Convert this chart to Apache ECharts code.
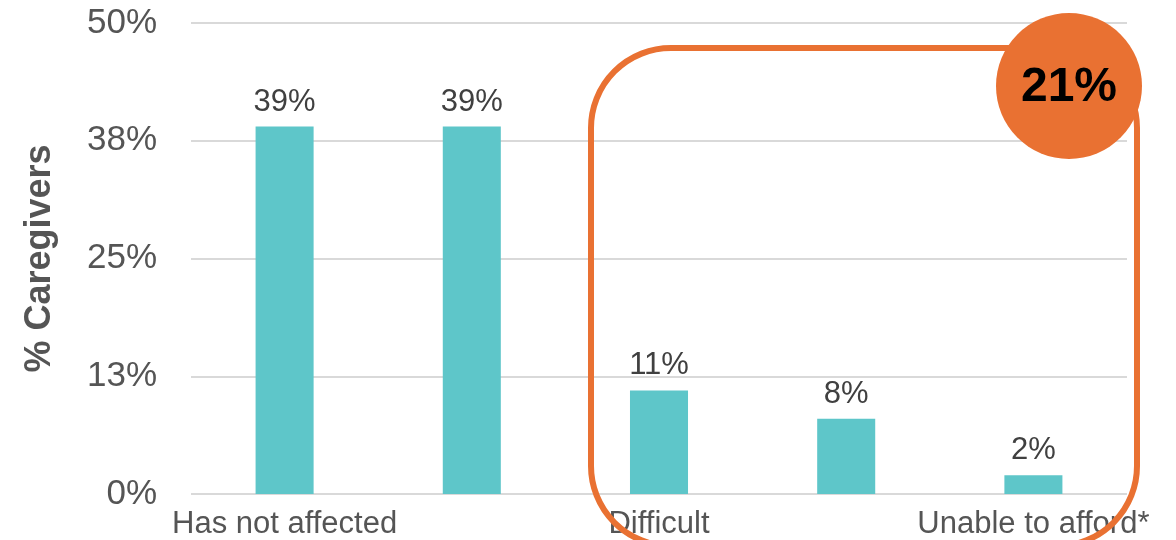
<!DOCTYPE html>
<html>
<head>
<meta charset="utf-8">
<script src="https://cdn.jsdelivr.net/npm/echarts@6/dist/echarts.min.js"></script>
<style>html,body{margin:0;padding:0;background:#fff}#c{width:1176px;height:540px}</style>
</head>
<body>
<div id="c"></div>
<script>
var categories = ['Has not affected', 'Somewhat affected', 'Difficult', 'Very difficult', 'Unable to afford*'];
var values = [39, 39, 11, 8, 2];
var yTicks = [0, 12.5, 25, 37.5, 50];
var highlightTotal = '21%';

var chart = echarts.init(document.getElementById('c'));
var font = '"Liberation Sans", Arial, Helvetica, sans-serif';
chart.setOption({
  animation: false,
  grid: { left: 191, right: 49, top: 23, bottom: 44, containLabel: false },
  xAxis: {
    type: 'category',
    data: categories,
    axisLine: { show: false },
    axisTick: { show: false },
    axisLabel: { interval: 1, color: '#555', fontSize: 31, fontFamily: font, margin: 15, hideOverlap: false }
  },
  yAxis: {
    type: 'value',
    min: yTicks[0], max: yTicks[yTicks.length - 1], interval: 12.5,
    name: '% Caregivers',
    nameLocation: 'middle',
    nameGap: 133,
    nameTextStyle: { color: '#555', fontSize: 36, fontWeight: 'bold', fontFamily: font },
    axisLine: { show: false },
    axisTick: { show: false },
    axisLabel: { color: '#555', fontSize: 35, fontFamily: font, margin: 34,
      formatter: function (v) { return Math.round(v) + '%'; } },
    splitLine: { lineStyle: { color: '#d9d9d9', width: 2 } }
  },
  series: [{
    type: 'bar',
    data: values,
    barWidth: '31%',
    itemStyle: { color: '#5EC6C9' },
    label: { show: true, position: 'top', distance: 9, color: '#404040', fontSize: 31, fontFamily: font,
      formatter: function (p) { return p.value + '%'; } }
  }],
  graphic: [
    { type: 'rect', z: 100, shape: { x: 591, y: 48, width: 546, height: 498, r: 80 },
      style: { fill: null, stroke: '#E97132', lineWidth: 6 } },
    { type: 'circle', z: 101, shape: { cx: 1069, cy: 86, r: 73 },
      style: { fill: '#E97132' } },
    { type: 'text', z: 102, x: 1069, y: 88,
      style: { text: highlightTotal, fill: '#000', font: 'bold 48px ' + font, align: 'center', verticalAlign: 'middle' } }
  ]
});
</script>
</body>
</html>
